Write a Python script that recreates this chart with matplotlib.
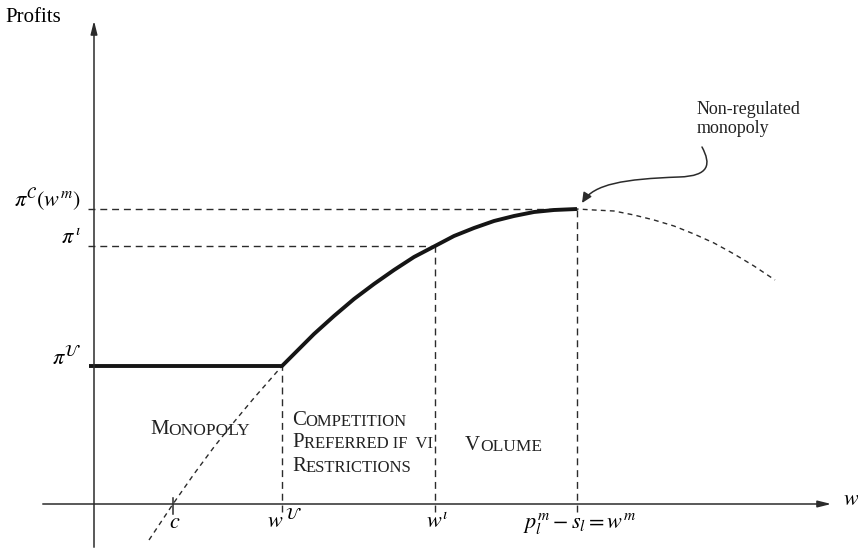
import matplotlib
matplotlib.use("Agg")
import matplotlib.pyplot as plt
from matplotlib.path import Path
from matplotlib.patches import FancyArrowPatch

plt.rcParams["font.family"] = ["Liberation Serif", "DejaVu Serif"]
plt.rcParams["mathtext.fontset"] = "stix"

# profit curve (w, profit)
curve_w = [0.55, 0.79, 1.00, 1.20, 1.40, 1.60, 1.88, 2.00, 2.20, 2.40, 2.60, 2.80,
           3.00, 3.20, 3.41, 3.60, 3.80, 4.00, 4.20, 4.40, 4.60, 4.83, 5.00, 5.20,
           5.40, 5.60, 5.80, 6.00, 6.20, 6.40, 6.60, 6.81]
curve_p = [-0.36, 0.00, 0.30, 0.57, 0.82, 1.06, 1.38, 1.50, 1.70, 1.88, 2.05, 2.20,
           2.34, 2.47, 2.58, 2.68, 2.76, 2.83, 2.88, 2.92, 2.94, 2.95, 2.94, 2.93,
           2.89, 2.84, 2.78, 2.70, 2.61, 2.50, 2.38, 2.24]

# key points
w_c, w_u, w_l, w_m = 0.79, 1.88, 3.41, 4.83
pi_u, pi_l, pi_C = 1.38, 2.58, 2.95

x_labels = [r"$c$", r"$w^{\,\mathcal{U}}$", r"$w^{\iota}$", r"$p_l^m - s_l = w^m$"]
x_label_pos = [w_c, w_u, w_l, w_m]
y_labels = [r"$\pi^{\mathcal{U}}$", r"$\pi^{\,\iota}$", r"$\pi^{\mathcal{C}}(w^m)$"]
y_label_pos = [pi_u, pi_l, pi_C]

fig = plt.figure(figsize=(8.58, 5.6), dpi=100)
ax = fig.add_axes([0, 0, 1, 1])
ax.set_xlim(-0.94, 7.64)
ax.set_ylim(-0.56, 5.04)
ax.axis("off")

axc = "#2b2b2b"
# axes with arrows
ax.annotate("", xy=(7.40, 0), xytext=(-0.54, 0),
            arrowprops=dict(arrowstyle="-|>,head_length=0.8,head_width=0.2", color=axc, lw=1.1))
ax.annotate("", xy=(0, 4.86), xytext=(0, -0.46),
            arrowprops=dict(arrowstyle="-|>,head_length=0.8,head_width=0.2", color=axc, lw=1.1))

# dashed guide lines
ds = dict(color=axc, lw=1.0, linestyle=(0, (5, 3.5)))
ax.plot([-0.06, w_m], [pi_C, pi_C], **ds)
ax.plot([-0.06, w_l], [pi_l, pi_l], **ds)
ax.plot([w_u, w_u], [-0.08, pi_u], **ds)
ax.plot([w_l, w_l], [-0.08, pi_l], **ds)
ax.plot([w_m, w_m], [-0.08, pi_C], **ds)

# c tick
ax.plot([w_c, w_c], [-0.10, 0.06], color=axc, lw=1.1)

# dashed profit curve
ax.plot(curve_w, curve_p, color=axc, lw=1.0, linestyle=(0, (3.5, 3)))

# thick envelope
thick_w = [-0.05, w_u] + [w for w in curve_w if w_u < w <= w_m]
thick_p = [pi_u, pi_u] + [p for w, p in zip(curve_w, curve_p) if w_u < w <= w_m]
ax.plot(thick_w, thick_p, color="#151515", lw=2.8, solid_capstyle="butt", solid_joinstyle="round")

# axis labels
ax.text(-0.89, 4.82, "Profits", fontsize=15, ha="left", va="baseline")
ax.text(7.49, -0.01, r"$w$", fontsize=16, ha="left", va="baseline")
for lab, xp in zip(x_labels, x_label_pos):
    ax.text(xp + 0.02, -0.235, lab, fontsize=16, ha="center", va="baseline")
for lab, yp in zip(y_labels, y_label_pos):
    ax.text(-0.13, yp + 0.02, lab, fontsize=16, ha="right", va="baseline")


def small_caps(x, y, word, big=15, small=12):
    # first letter large, rest as small capitals
    t = ax.text(x, y, word[0], fontsize=big, ha="left", va="baseline", color="#222222")
    ax.annotate(word[1:].upper(), xy=(1, 0), xycoords=t, fontsize=small,
                ha="left", va="bottom", color="#222222")


small_caps(0.56, 0.70, "Monopoly", small=12.5)
small_caps(1.98, 0.79, "Competition")
small_caps(1.98, 0.57, "Preferred if  vi")
small_caps(1.98, 0.33, "Restrictions")
small_caps(3.71, 0.54, "Volume", small=12.5)

# annotation
ax.text(6.03, 3.71, "Non-regulated\nmonopoly", fontsize=13, ha="left", va="baseline",
        linespacing=1.15, color="#222222")
verts = [(6.08, 3.57), (6.17, 3.40), (6.16, 3.28), (5.85, 3.27),
         (5.30, 3.25), (5.00, 3.20), (4.88, 3.01)]
codes = [Path.MOVETO] + [Path.CURVE4] * 6
arr = FancyArrowPatch(path=Path(verts, codes), arrowstyle="-|>,head_length=6,head_width=2.8",
                      color=axc, lw=1.1)
ax.add_patch(arr)

fig.savefig("out.png", dpi=100)
